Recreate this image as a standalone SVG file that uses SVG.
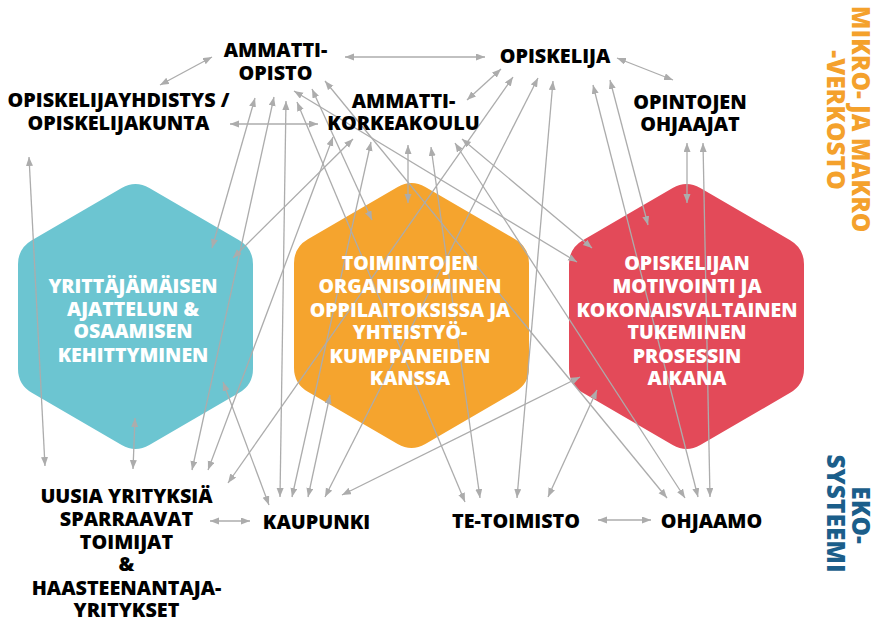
<svg xmlns="http://www.w3.org/2000/svg" width="873" height="621" viewBox="0 0 873 621">
<style>
.lbl{font-family:"Open Sans","Liberation Sans",sans-serif;font-weight:800;font-size:19.8px;fill:#000;text-anchor:middle}
.hx{font-family:"Open Sans","Liberation Sans",sans-serif;font-weight:800;font-size:19.5px;fill:#fff;text-anchor:middle}
.side{font-family:"Open Sans","Liberation Sans",sans-serif;font-weight:800;font-size:24.5px;text-anchor:middle}
.c line{stroke:#acacac;stroke-width:1.3;fill:none;marker-start:url(#ah);marker-end:url(#ah)}
</style>
<defs>
<marker id="ah" markerUnits="userSpaceOnUse" markerWidth="10" markerHeight="8" refX="9" refY="3.5" orient="auto-start-reverse" viewBox="0 0 10 8">
<path d="M0,0 L9,3.5 L0,7 Z" fill="#acacac"/>
</marker>
<path id="hex" d="M13.83,-128.46 L103.67,-76.29 Q117.5,-68.25 117.5,-52.25 L117.5,52.25 Q117.5,68.25 103.67,76.29 L13.83,128.46 Q0,136.5 -13.83,128.46 L-103.67,76.29 Q-117.5,68.25 -117.5,52.25 L-117.5,-52.25 Q-117.5,-68.25 -103.67,-76.29 L-13.83,-128.46 Q0,-136.5 13.83,-128.46 Z"/>
</defs>
<rect width="873" height="621" fill="#fff"/>

<g id="hex-yrittajamaisen">
<use href="#hex" transform="translate(135.5,316.5)" fill="#6CC5D1"/>
</g>
<g id="hex-toimintojen">
<use href="#hex" transform="translate(411.5,315.5)" fill="#F5A42E"/>
</g>
<g id="hex-opiskelijan">
<use href="#hex" transform="translate(686.5,316.5)" fill="#E34A59"/>
</g>

<g id="connectors" class="c">
<line x1="160" y1="85" x2="212" y2="57"/>
<line x1="345" y1="57" x2="485" y2="57"/>
<line x1="230" y1="124" x2="318" y2="124"/>
<line x1="29" y1="157" x2="45" y2="466"/>
<line x1="467" y1="100" x2="501" y2="69"/>
<line x1="617" y1="58" x2="673" y2="80"/>
<line x1="255" y1="98" x2="212" y2="248"/>
<line x1="274" y1="97" x2="192" y2="470"/>
<line x1="286" y1="101" x2="280" y2="497"/>
<line x1="297" y1="102" x2="465" y2="502"/>
<line x1="294" y1="91" x2="577" y2="262"/>
<line x1="312" y1="89" x2="372" y2="220"/>
<line x1="325" y1="81" x2="667" y2="498"/>
<line x1="333" y1="137" x2="208" y2="470"/>
<line x1="353" y1="139" x2="233" y2="258"/>
<line x1="371" y1="142" x2="292" y2="497"/>
<line x1="408" y1="145" x2="408" y2="203"/>
<line x1="431" y1="147" x2="480" y2="498"/>
<line x1="455" y1="143" x2="685" y2="498"/>
<line x1="462" y1="139" x2="592" y2="248"/>
<line x1="513" y1="77" x2="228" y2="483"/>
<line x1="538" y1="78" x2="325" y2="497"/>
<line x1="553" y1="81" x2="517" y2="498"/>
<line x1="593" y1="85" x2="698" y2="497"/>
<line x1="610" y1="80" x2="648" y2="225"/>
<line x1="687" y1="143" x2="687" y2="203"/>
<line x1="703" y1="143" x2="710" y2="497"/>
<line x1="580" y1="377" x2="342" y2="495"/>
<line x1="597" y1="390" x2="548" y2="497"/>
<line x1="330" y1="395" x2="308" y2="497"/>
<line x1="223" y1="382" x2="269" y2="505"/>
<line x1="135" y1="418" x2="133" y2="469"/>
<line x1="210" y1="521" x2="250" y2="521"/>
<line x1="598" y1="520" x2="651" y2="520"/>
</g>

<g id="hex-yrittajamaisen-text" class="hx">
<text x="133" y="293">YRITTÄJÄMÄISEN</text>
<text x="133" y="316">AJATTELUN &amp;</text>
<text x="133" y="338">OSAAMISEN</text>
<text x="133" y="362">KEHITTYMINEN</text>
</g>
<g id="hex-toimintojen-text" class="hx">
<text x="410" y="270">TOIMINTOJEN</text>
<text x="410" y="293">ORGANISOIMINEN</text>
<text x="410" y="317">OPPILAITOKSISSA JA</text>
<text x="410" y="339">YHTEISTYÖ-</text>
<text x="410" y="363">KUMPPANEIDEN</text>
<text x="410" y="385">KANSSA</text>
</g>
<g id="hex-opiskelijan-text" class="hx">
<text x="687" y="270">OPISKELIJAN</text>
<text x="687" y="293">MOTIVOINTI JA</text>
<text x="687" y="317">KOKONAISVALTAINEN</text>
<text x="687" y="339">TUKEMINEN</text>
<text x="687" y="363">PROSESSIN</text>
<text x="687" y="385">AIKANA</text>
</g>

<g id="ammattiopisto" class="lbl">
<text x="275.5" y="57">AMMATTI-</text>
<text x="275.5" y="80">OPISTO</text>
</g>
<g id="opiskelija" class="lbl">
<text x="555" y="63">OPISKELIJA</text>
</g>
<g id="opiskelijayhdistys" class="lbl">
<text x="118.5" y="107">OPISKELIJAYHDISTYS /</text>
<text x="118.5" y="130">OPISKELIJAKUNTA</text>
</g>
<g id="ammattikorkeakoulu" class="lbl">
<text x="403.5" y="108">AMMATTI-</text>
<text x="403.5" y="130">KORKEAKOULU</text>
</g>
<g id="opintojen-ohjaajat" class="lbl">
<text x="690" y="109">OPINTOJEN</text>
<text x="690" y="131">OHJAAJAT</text>
</g>
<g id="uusia-yrityksia" class="lbl">
<text x="126.5" y="503">UUSIA YRITYKSIÄ</text>
<text x="126.5" y="526">SPARRAAVAT</text>
<text x="126.5" y="549">TOIMIJAT</text>
<text x="126.5" y="571">&amp;</text>
<text x="126.5" y="595">HAASTEENANTAJA-</text>
<text x="126.5" y="617">YRITYKSET</text>
</g>
<g id="kaupunki" class="lbl">
<text x="316.5" y="529">KAUPUNKI</text>
</g>
<g id="te-toimisto" class="lbl">
<text x="516" y="528">TE-TOIMISTO</text>
</g>
<g id="ohjaamo" class="lbl">
<text x="711.5" y="528">OHJAAMO</text>
</g>

<g id="side-mikro" class="side" fill="#F4A12C">
<text transform="translate(852,119) rotate(90)">MIKRO- JA MAKRO</text>
<text transform="translate(827,120) rotate(90)">-VERKOSTO</text>
</g>
<g id="side-eko" class="side" fill="#1B5E8A">
<text transform="translate(852,515) rotate(90)">EKO-</text>
<text transform="translate(827,513.5) rotate(90)">SYSTEEMI</text>
</g>
</svg>
